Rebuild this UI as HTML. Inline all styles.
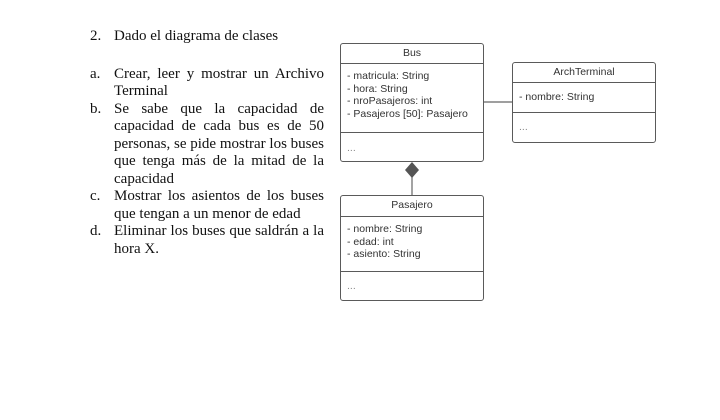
<!DOCTYPE html>
<html><head><meta charset="utf-8"><style>
body{margin:0;width:720px;height:420px;background:#fff;position:relative;overflow:hidden}
.t{position:absolute;font-family:"Liberation Serif",serif;font-size:15px;color:#111;white-space:nowrap;line-height:18px}
.j{width:210px;text-align:justify;text-align-last:justify;white-space:normal}
.n{left:90px}
.x{left:114px}
.box{position:absolute;border:1.5px solid #5a5a5a;border-radius:3px;background:#fff;font-family:"Liberation Sans",sans-serif;font-size:10.5px;color:#333;box-sizing:border-box}
.h{position:absolute;left:0;right:0;text-align:center}
.l{position:absolute;left:0;right:0;border-top:1.5px solid #5a5a5a}
.a{position:absolute;left:6px;line-height:12.5px;white-space:pre}
</style></head><body>
<div class="t n" style="top:27px">2.</div><div class="t x" style="top:27px">Dado el diagrama de clases</div>
<div class="t n" style="top:65px">a.</div><div class="t x j" style="top:65px">Crear, leer y mostrar un Archivo</div>
<div class="t x" style="top:82px">Terminal</div>
<div class="t n" style="top:100px">b.</div><div class="t x j" style="top:100px">Se sabe que la capacidad de</div>
<div class="t x j" style="top:117px">capacidad de cada bus es de 50</div>
<div class="t x j" style="top:135px">personas, se pide mostrar los buses</div>
<div class="t x j" style="top:152px">que tenga más de la mitad de la</div>
<div class="t x" style="top:170px">capacidad</div>
<div class="t n" style="top:187px">c.</div><div class="t x j" style="top:187px">Mostrar los asientos de los buses</div>
<div class="t x" style="top:205px">que tengan a un menor de edad</div>
<div class="t n" style="top:222px">d.</div><div class="t x j" style="top:222px">Eliminar los buses que saldrán a la</div>
<div class="t x" style="top:240px">hora X.</div>

<svg style="position:absolute;left:0;top:0" width="720" height="420">
<line x1="484" y1="102" x2="512" y2="102" stroke="#666" stroke-width="1.2"/>
<line x1="412" y1="176" x2="412" y2="195" stroke="#666" stroke-width="1.2"/>
<polygon points="412,162 419,170 412,178 405,170" fill="#555"/>
</svg>

<div class="box" style="left:340px;top:43px;width:144px;height:119px">
<div class="h" style="top:3px">Bus</div>
<div class="l" style="top:19px"></div>
<div class="a" style="top:26px">- matricula: String
- hora: String
- nroPasajeros: int
- Pasajeros [50]: Pasajero</div>
<div class="l" style="top:88px"></div>
<div class="a" style="top:98px;color:#888">...</div>
</div>

<div class="box" style="left:512px;top:62px;width:144px;height:81px">
<div class="h" style="top:3px">ArchTerminal</div>
<div class="l" style="top:19px"></div>
<div class="a" style="top:28px">- nombre: String</div>
<div class="l" style="top:49px"></div>
<div class="a" style="top:58px;color:#888">...</div>
</div>

<div class="box" style="left:340px;top:195px;width:144px;height:106px">
<div class="h" style="top:3px">Pasajero</div>
<div class="l" style="top:20px"></div>
<div class="a" style="top:27px">- nombre: String
- edad: int
- asiento: String</div>
<div class="l" style="top:75px"></div>
<div class="a" style="top:84px;color:#888">...</div>
</div>
</body></html>
